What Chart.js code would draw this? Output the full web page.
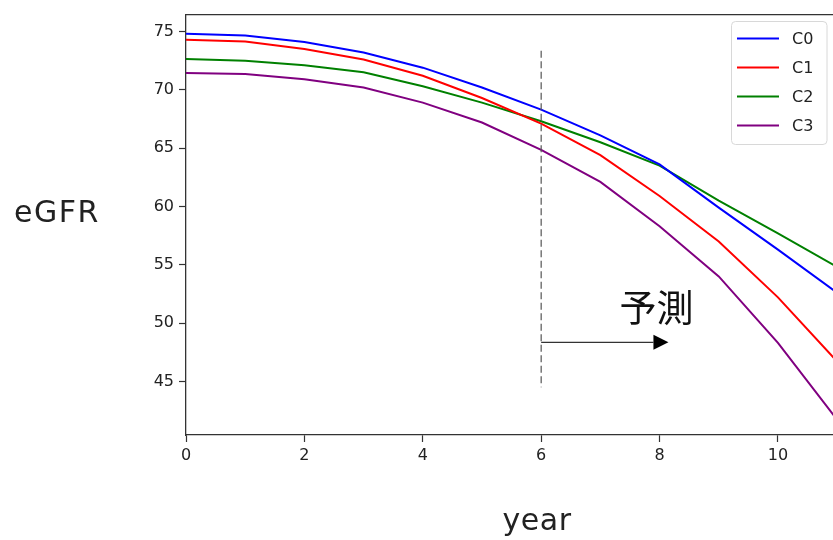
<!DOCTYPE html>
<html lang="ja">
<head>
  <meta charset="UTF-8" />
  <title>eGFR 予測</title>
  <script src="https://cdn.jsdelivr.net/npm/chart.js"></script>
  <style>
    body { margin: 0; background: #fff; }
    canvas { display: block; }
  </style>
</head>
<body>
  <canvas id="egfrChart" width="833" height="540"></canvas>

  <script>
    // values
    const years = [0, 1, 2, 3, 4, 5, 6, 7, 8, 9, 10, 11];
    const c0 = [74.8, 74.65, 74.1, 73.2, 71.9, 70.2, 68.3, 66.1, 63.6, 59.9, 56.3, 52.6];
    const c1 = [74.3, 74.15, 73.5, 72.6, 71.2, 69.3, 67.1, 64.4, 60.9, 57.0, 52.2, 46.7];
    const c2 = [72.65, 72.5, 72.1, 71.5, 70.3, 68.9, 67.3, 65.5, 63.5, 60.5, 57.7, 54.8];
    const c3 = [71.45, 71.35, 70.9, 70.2, 68.9, 67.2, 64.85, 62.1, 58.3, 54.0, 48.3, 41.7];
    const seriesNames = ['C0', 'C1', 'C2', 'C3'];
    const seriesColors = ['#0000ff', '#ff0000', '#008000', '#800080'];

    const xTicks = [0, 2, 4, 6, 8, 10];
    const yTicks = [45, 50, 55, 60, 65, 70, 75];

    // prediction marker: dashed line at year 6, arrow to the right
    const splitYear = 6;
    const splitRange = [44.5, 73.35];
    const arrowFrom = [6, 48.35];
    const arrowTo = [8.15, 48.35];
    const predictLabel = '予測';
    const predictPos = [7.95, 51.3];

    const ink = '#333';

    const toPoints = vals => vals.map((v, i) => ({ x: years[i], y: v }));
    const allSeries = [c0, c1, c2, c3];

    const overlay = {
      id: 'overlay',
      afterDatasetsDraw(chart) {
        const ctx = chart.ctx;
        const xs = chart.scales.x, ys = chart.scales.y;
        const area = chart.chartArea;

        ctx.save();
        // top frame line (the right side is cut off in the picture)
        ctx.strokeStyle = ink;
        ctx.lineWidth = 1.3;
        ctx.beginPath();
        ctx.moveTo(area.left, area.top);
        ctx.lineTo(area.right, area.top);
        ctx.stroke();

        // dashed split line
        const sx = xs.getPixelForValue(splitYear);
        ctx.strokeStyle = '#555';
        ctx.lineWidth = 1.2;
        ctx.setLineDash([7, 3.5]);
        ctx.beginPath();
        ctx.moveTo(sx, ys.getPixelForValue(splitRange[1]));
        ctx.lineTo(sx, ys.getPixelForValue(splitRange[0]));
        ctx.stroke();
        ctx.setLineDash([]);

        // arrow
        const ax0 = xs.getPixelForValue(arrowFrom[0]);
        const ay = ys.getPixelForValue(arrowFrom[1]);
        const ax1 = xs.getPixelForValue(arrowTo[0]);
        const headLen = 15, headHalf = 7.5;
        ctx.strokeStyle = ink;
        ctx.lineWidth = 1.3;
        ctx.beginPath();
        ctx.moveTo(ax0, ay);
        ctx.lineTo(ax1 - headLen, ay);
        ctx.stroke();
        ctx.fillStyle = '#000';
        ctx.beginPath();
        ctx.moveTo(ax1, ay);
        ctx.lineTo(ax1 - headLen, ay - headHalf);
        ctx.lineTo(ax1 - headLen, ay + headHalf);
        ctx.closePath();
        ctx.fill();

        // 予測 label
        ctx.fillStyle = '#111';
        ctx.font = '37px "Noto Sans CJK JP"';
        ctx.textAlign = 'center';
        ctx.textBaseline = 'middle';
        ctx.fillText(predictLabel, xs.getPixelForValue(predictPos[0]), ys.getPixelForValue(predictPos[1]));

        // axis titles
        ctx.fillStyle = '#222';
        ctx.font = '30px "DejaVu Sans"';
        ctx.textBaseline = 'alphabetic';
        ctx.letterSpacing = '1.5px';
        ctx.fillText('eGFR', 57, 222);
        ctx.letterSpacing = '0.5px';
        ctx.fillText('year', 537, 530);
        ctx.letterSpacing = '0px';

        // legend
        const lx = 731.5, ly = 21.5, lw = 95.5, lh = 123;
        ctx.strokeStyle = '#d8d8d8';
        ctx.lineWidth = 1;
        ctx.fillStyle = 'rgba(255,255,255,0.85)';
        ctx.beginPath();
        ctx.roundRect(lx, ly, lw, lh, 4);
        ctx.fill();
        ctx.stroke();
        ctx.font = '16px "DejaVu Sans"';
        ctx.textAlign = 'left';
        ctx.textBaseline = 'middle';
        chart.data.datasets.forEach((ds, i) => {
          const rowY = 38.5 + i * 29;
          ctx.strokeStyle = ds.borderColor;
          ctx.lineWidth = 2;
          ctx.beginPath();
          ctx.moveTo(737, rowY);
          ctx.lineTo(779, rowY);
          ctx.stroke();
          ctx.fillStyle = '#222';
          ctx.fillText(ds.label, 792, rowY + 1);
        });
        ctx.restore();
      }
    };

    new Chart(document.getElementById('egfrChart'), {
      type: 'line',
      data: {
        datasets: allSeries.map((vals, i) => ({
          label: seriesNames[i],
          data: toPoints(vals),
          borderColor: seriesColors[i],
          borderWidth: 2,
          pointRadius: 0,
          tension: 0,
          fill: false
        }))
      },
      options: {
        responsive: false,
        animation: false,
        layout: { padding: { top: 8, right: 0, bottom: 0, left: 0 } },
        plugins: {
          legend: { display: false },
          tooltip: { enabled: false }
        },
        scales: {
          x: {
            type: 'linear',
            min: 0,
            max: 10.93,
            afterBuildTicks: s => { s.ticks = xTicks.map(v => ({ value: v })); },
            afterFit: s => { s.height = 105; },
            ticks: { color: '#222', font: { family: 'DejaVu Sans', size: 16 }, padding: 4, maxRotation: 0 },
            grid: { drawOnChartArea: false, tickLength: 7, color: ink, tickWidth: 1.2 },
            border: { color: ink, width: 1.3 }
          },
          y: {
            min: 40.4,
            max: 76.45,
            afterBuildTicks: s => { s.ticks = yTicks.map(v => ({ value: v })); },
            afterFit: s => { s.width = 186; },
            ticks: { color: '#222', font: { family: 'DejaVu Sans', size: 16 }, padding: 5 },
            grid: { drawOnChartArea: false, tickLength: 7, color: ink, tickWidth: 1.2 },
            border: { color: ink, width: 1.3 }
          }
        }
      },
      plugins: [overlay]
    });
  </script>
</body>
</html>
